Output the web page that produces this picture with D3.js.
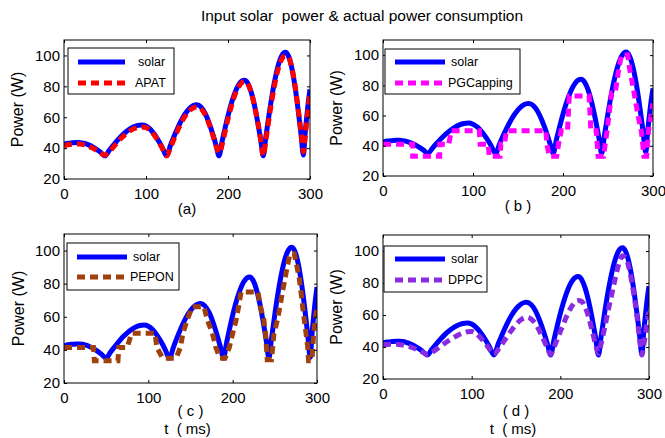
<!DOCTYPE html>
<html>
<head>
<meta charset="utf-8">
<script src="https://cdn.jsdelivr.net/npm/d3@7"></script>
<style>
  body { margin: 0; background: #fff; }
  svg { display: block; }
</style>
</head>
<body>
<div id="chart"></div>
<script>
// time samples (ms) shared by solar, APAT and DPPC
const tSolar = [0, 5, 10, 15, 18, 22, 26, 30, 35, 40, 45, 50,
  55, 60, 65, 70, 75, 80, 85, 90, 95, 100, 105, 110, 115, 120, 125,
  130, 135, 140, 145, 150, 155, 160, 162, 167, 172, 177, 182, 186, 189,
  193, 197, 201, 205, 209, 213, 217, 220, 224, 228, 232, 236, 240, 243,
  246, 250, 254, 258, 262, 266, 270, 274, 278, 282, 286, 289, 292,
  294, 296, 298, 300];

const solarPower = [42.5, 43.1, 43.4, 43.6, 43.6, 43.4, 42.9, 42.1, 40.8, 39.1, 37.1, 35,
  38.5, 41.8, 45, 47.9, 50.3, 52.3, 53.8, 54.7, 55, 54.3, 52.3, 49.1, 45, 40.2, 35,
  42, 48.6, 54.6, 59.8, 63.8, 66.6, 67.9, 68, 66.6, 62.6, 56.2, 48.1, 40.7, 35,
  44.9, 54.3, 63, 70.5, 76.6, 81, 83.5, 84, 82.2, 76.8, 68.4, 57.5, 45, 35,
  46.6, 61.5, 75, 86.3, 94.9, 100.2, 102, 99.3, 91.4, 78.9, 62.8, 49.2, 35.5,
  49, 60, 70, 78];

const apatPower = [41.5, 42.2, 42.5, 42.6, 42.6, 42.4, 41.9, 41.2, 40, 38.4, 36.7, 35.5,
  37.5, 40.5, 43.6, 46.5, 49, 51, 52.5, 53.3, 53.6, 53.2, 51.5, 48.5, 44.5, 39.8, 35,
  40.5, 47, 53, 58.3, 62.4, 65.2, 66.5, 66.7, 65.5, 61.8, 55.6, 47.6, 40.5, 36.8,
  42.5, 52, 61, 68.8, 75.3, 79.8, 82.4, 83.2, 81.6, 76.6, 68.2, 57.5, 45.2, 35,
  44.5, 59, 72.5, 84, 92.6, 98, 99.8, 98.7, 91.5, 79.5, 63.5, 50.5, 37.5,
  46.5, 57, 67, 75.5];

const dppcPower = [41.5, 41.6, 41.7, 41.7, 41.6, 41.3, 40.8, 40.2, 39.2, 38, 36.7, 35.3,
  36.5, 38.5, 40.5, 42.5, 44.3, 46, 47.5, 48.7, 49.5, 49.7, 48.5, 45.8, 42.5, 38.8, 35.3,
  38.5, 42.5, 46.5, 50.5, 54, 56.8, 58.3, 58.5, 57.5, 54.5, 49.5, 43.5, 38.5, 35.5,
  40, 45.5, 51, 56.5, 61.5, 65.5, 68.3, 69, 68.5, 65, 58.5, 50, 41, 36,
  42, 52, 63, 73, 83, 92, 97, 95.5, 88, 76, 61, 47, 35,
  41, 48, 56, 64];

// stepped series have their own time samples
const pgcT = [0, 33, 33, 63, 63, 73, 76, 107, 108, 117, 118, 130, 131, 135, 137, 181, 182, 185, 193, 195, 198, 205, 207, 229, 231, 237, 239, 245, 249, 254, 258, 262, 265, 272, 274, 279, 284, 287, 290, 293, 295, 300];
const pgcPower = [41, 41, 33, 33, 41, 41, 50, 50, 41, 41, 33, 33, 41, 41, 50, 50, 41, 33, 33, 41, 50, 50, 73, 73, 50, 50, 33, 33, 50, 75, 75, 91, 100, 100, 91, 75, 58, 50, 33, 33, 50, 68];

const peponT = [0, 35, 36, 64, 65, 75, 80, 108, 110, 117, 133, 138, 141, 146, 152, 166, 170, 176, 180, 185, 191, 196, 200, 204, 207, 210, 230, 233, 237, 239, 241, 246, 249, 253, 256, 259, 262, 265, 268, 273, 276, 279, 281, 283, 285, 287, 289, 290, 294, 296, 298, 300];
const peponPower = [41.5, 41.5, 33.5, 33.5, 41.5, 41.5, 50, 50, 41.5, 35, 35, 41.5, 50, 58, 66, 66, 58, 50, 41.5, 35, 35, 41.5, 50, 58, 66, 75, 75, 66, 58, 50, 34, 34, 50, 58, 66, 75, 83, 91, 98, 98, 91, 83, 75, 66, 58, 50, 41.5, 33.5, 33.5, 50, 58, 66];

const xTicks = [0, 100, 200, 300];
const yTicks = [20, 40, 60, 80, 100];
const seriesNames = ["APAT", "PGCapping", "PEPON", "DPPC"];
const seriesColors = ["#ff0000", "#ff00ff", "#a0400c", "#8a2be2"];
const panelLabels = ["(a)", "( b )", "( c )", "( d )"];

const W = 665, H = 438;
const font = "'Liberation Sans', Arial, Helvetica, sans-serif";

const svg = d3.select("#chart").append("svg")
    .attr("width", W)
    .attr("height", H);

svg.append("text")
    .attr("x", 362)
    .attr("y", 21)
    .attr("text-anchor", "middle")
    .style("font-family", font)
    .style("font-size", "15.5px")
    .style("white-space", "pre")
    .attr("xml:space", "preserve")
    .text("Input solar  power & actual power consumption");

const panels = [
    { x0: 64, x1: 310, y0: 40, y1: 179, ylabX: 17, labY: 214, tY: null,
      t: tSolar, v: apatPower,
      leg: { x0: 68, x1: 174, y0: 48, y1: 94, lx0: 78, lx1: 125, ly: [62, 83], tx: 135 } },
    { x0: 383, x1: 653, y0: 40, y1: 176, ylabX: 336, labY: 211, tY: null,
      t: pgcT, v: pgcPower,
      leg: { x0: 385, x1: 520, y0: 49, y1: 94, lx0: 395, lx1: 445, ly: [62, 83], tx: 448 } },
    { x0: 64, x1: 317, y0: 234, y1: 383, ylabX: 18, labY: 416, tY: 434,
      t: peponT, v: peponPower,
      leg: { x0: 67, x1: 179, y0: 243, y1: 290, lx0: 77, lx1: 127, ly: [257, 277], tx: 130 } },
    { x0: 383, x1: 649, y0: 235, y1: 379, ylabX: 336, labY: 416, tY: 434,
      t: tSolar, v: dppcPower,
      leg: { x0: 384, x1: 487, y0: 246, y1: 292, lx0: 395, lx1: 445, ly: [259, 280], tx: 448 } }
];

panels.forEach((p, i) => drawPanel(p, i));

function drawPanel(p, i) {
    const x = d3.scaleLinear().domain([0, 300]).range([p.x0, p.x1]);
    const y = d3.scaleLinear().domain([20, 110]).range([p.y1, p.y0]);

    const clipId = "clip" + i;
    svg.append("clipPath").attr("id", clipId)
        .append("rect")
        .attr("x", p.x0).attr("y", p.y0)
        .attr("width", p.x1 - p.x0).attr("height", p.y1 - p.y0);

    const g = svg.append("g").attr("clip-path", `url(#${clipId})`);

    const line = d3.line()
        .x(d => x(d[0]))
        .y(d => y(d[1]))
        .curve(d3.curveMonotoneX);

    const stepLine = d3.line()
        .x(d => x(d[0]))
        .y(d => y(d[1]));

    g.append("path")
        .datum(d3.zip(tSolar, solarPower))
        .attr("fill", "none")
        .attr("stroke", "#0000ff")
        .attr("stroke-width", 5)
        .attr("stroke-linejoin", "round")
        .attr("d", line);

    const smooth = (i === 0 || i === 3);
    g.append("path")
        .datum(d3.zip(p.t, p.v))
        .attr("fill", "none")
        .attr("stroke", seriesColors[i])
        .attr("stroke-width", 5)
        .attr("stroke-dasharray", "8,5")
        .attr("d", smooth ? line : stepLine);

    // axes, MATLAB style: ticks pointing inward on all sides
    const axes = svg.append("g")
        .style("font-family", font);

    axes.append("g")
        .attr("transform", `translate(0,${p.y1})`)
        .call(d3.axisBottom(x).tickValues(xTicks).tickSizeInner(-3).tickSizeOuter(0).tickPadding(9));
    axes.append("g")
        .attr("transform", `translate(0,${p.y0})`)
        .call(d3.axisTop(x).tickValues(xTicks).tickSizeInner(-3).tickSizeOuter(0).tickFormat(""));
    axes.append("g")
        .attr("transform", `translate(${p.x0},0)`)
        .call(d3.axisLeft(y).tickValues(yTicks).tickSizeInner(-3).tickSizeOuter(0).tickPadding(4));
    axes.append("g")
        .attr("transform", `translate(${p.x1},0)`)
        .call(d3.axisRight(y).tickValues(yTicks).tickSizeInner(-3).tickSizeOuter(0).tickFormat(""));

    axes.selectAll(".domain").remove();
    axes.selectAll(".tick line").attr("stroke", "#000");
    axes.selectAll(".tick text")
        .style("font-family", font)
        .style("font-size", "15px")
        .attr("fill", "#000");

    svg.append("rect")
        .attr("x", p.x0).attr("y", p.y0)
        .attr("width", p.x1 - p.x0).attr("height", p.y1 - p.y0)
        .attr("fill", "none")
        .attr("stroke", "#000")
        .attr("stroke-width", 1);

    // labels
    svg.append("text")
        .attr("transform", `translate(${p.ylabX},${(p.y0 + p.y1) / 2}) rotate(-90)`)
        .attr("text-anchor", "middle")
        .attr("dy", "0.35em")
        .style("font-family", font)
        .style("font-size", "16px")
        .text("Power (W)");

    svg.append("text")
        .attr("x", (p.x0 + p.x1) / 2)
        .attr("y", p.labY)
        .attr("text-anchor", "middle")
        .style("font-family", font)
        .style("font-size", "15px")
        .attr("xml:space", "preserve")
        .style("white-space", "pre")
        .text(panelLabels[i]);

    if (p.tY) {
        svg.append("text")
            .attr("x", (p.x0 + p.x1) / 2 - 3)
            .attr("y", p.tY)
            .attr("text-anchor", "middle")
            .style("font-family", font)
            .style("font-size", "15px")
            .attr("xml:space", "preserve")
            .style("white-space", "pre")
            .text("t  ( ms)");
    }

    // legend
    const L = p.leg;
    const leg = svg.append("g");
    leg.append("rect")
        .attr("x", L.x0).attr("y", L.y0)
        .attr("width", L.x1 - L.x0).attr("height", L.y1 - L.y0)
        .attr("fill", "#fff")
        .attr("stroke", "#000")
        .attr("stroke-width", 1);

    leg.append("line")
        .attr("x1", L.lx0).attr("x2", L.lx1)
        .attr("y1", L.ly[0]).attr("y2", L.ly[0])
        .attr("stroke", "#0000ff")
        .attr("stroke-width", 5);
    leg.append("line")
        .attr("x1", L.lx0).attr("x2", L.lx1)
        .attr("y1", L.ly[1]).attr("y2", L.ly[1])
        .attr("stroke", seriesColors[i])
        .attr("stroke-width", 5)
        .attr("stroke-dasharray", "8,5");

    leg.append("text")
        .attr("x", L.tx + 3).attr("y", L.ly[0])
        .attr("dy", "0.35em")
        .style("font-family", font)
        .style("font-size", "12.5px")
        .text("solar");
    leg.append("text")
        .attr("x", L.tx).attr("y", L.ly[1])
        .attr("dy", "0.35em")
        .style("font-family", font)
        .style("font-size", "12.5px")
        .text(seriesNames[i]);
}
</script>
</body>
</html>
